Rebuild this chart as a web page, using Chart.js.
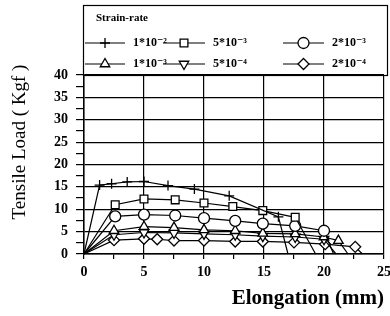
<!DOCTYPE html>
<html><head><meta charset="utf-8">
<script src="https://cdn.jsdelivr.net/npm/chart.js@4/dist/chart.umd.min.js"></script>
<style>html,body{margin:0;padding:0;background:#fff}</style>
</head><body>
<canvas id="c" width="390" height="316"></canvas>
<script>
// ---- data ----
const legendTitle = 'Strain-rate';
const xAxisTitle = 'Elongation (mm)';
const yAxisTitle = 'Tensile Load ( Kgf )';
const seriesLabels = ['1*10⁻²', '5*10⁻³', '2*10⁻³', '1*10⁻³', '5*10⁻⁴', '2*10⁻⁴'];
const xTickLabels = ['0', '5', '10', '15', '20', '25'];
const yTickLabels = ['0', '5', '10', '15', '20', '25', '30', '35', '40'];

const x1e2 = [0, 1.3, 2.3, 3.6, 5.0, 7.0, 9.2, 12.1, 16.2, 17.0];
const y1e2 = [0, 15.4, 15.7, 16.1, 16.2, 15.3, 14.5, 13.0, 8.3, 0];
const x5e3 = [0, 2.6, 5.0, 7.6, 10.0, 12.4, 14.9, 17.6, 19.3];
const y5e3 = [0, 11.0, 12.3, 12.1, 11.4, 10.6, 9.7, 8.2, 0];
const x2e3 = [0, 2.6, 5.0, 7.6, 10.0, 12.6, 14.9, 17.6, 20.0, 20.8];
const y2e3 = [0, 8.4, 8.8, 8.6, 8.0, 7.4, 6.8, 6.3, 5.2, 0];
const x1e3 = [0, 2.5, 5.0, 7.5, 10.0, 12.6, 14.9, 17.6, 20.0, 21.2, 22.0];
const y1e3 = [0, 5.2, 6.1, 5.9, 5.4, 5.2, 4.6, 4.5, 3.8, 3.0, 0];
const x5e4 = [0, 2.5, 5.0, 7.5, 10.0, 12.6, 14.9, 17.6, 20.0, 21.0];
const y5e4 = [0, 4.3, 4.8, 4.7, 4.5, 4.3, 4.0, 3.8, 3.3, 0];
const x2e4 = [0, 2.5, 5.0, 6.1, 7.5, 10.0, 12.6, 14.9, 17.5, 20.1, 22.6, 23.2];
const y2e4 = [0, 3.1, 3.4, 3.3, 3.0, 3.0, 2.8, 2.8, 2.6, 2.2, 1.6, 0];

const seriesX = [x1e2, x5e3, x2e3, x1e3, x5e4, x2e4];
const seriesY = [y1e2, y5e3, y2e3, y1e3, y5e4, y2e4];
const markerStyles = ['cross', 'rect', 'circle', 'triangle', 'triangle', 'rectRot'];
const markerRotations = [0, 0, 0, 0, 180, 0];
const markerRadii = [5, 5.5, 5.5, 5.5, 5.5, 5.5];

const toPoints = (xs, ys) => xs.map((x, i) => ({ x: x, y: ys[i] }));

const datasets = seriesLabels.map((lab, i) => ({
  label: lab,
  data: toPoints(seriesX[i], seriesY[i]),
  borderColor: '#000',
  backgroundColor: '#fff',
  borderWidth: 1.2,
  pointStyle: markerStyles[i],
  rotation: markerRotations[i],
  pointRadius: ctx => (ctx.raw && ctx.raw.y === 0) ? 0 : markerRadii[i],
  pointBorderWidth: 1.3,
  pointBorderColor: '#000',
  pointBackgroundColor: '#fff',
  tension: 0,
  clip: false
}));

const serif = '"Liberation Serif", "DejaVu Serif", serif';

const legendBox = {
  id: 'legendBox',
  afterDraw(chart) {
    const ctx = chart.ctx;
    const ca = chart.chartArea;
    ctx.save();
    ctx.strokeStyle = '#000';
    ctx.lineWidth = 1.2;
    ctx.strokeRect(83.5, 5.5, 387 - 83, ca.top - 5);
    ctx.fillStyle = '#000';
    ctx.textBaseline = 'middle';
    ctx.textAlign = 'left';
    ctx.font = 'bold 11px ' + serif;
    ctx.fillText(legendTitle, 96, 18);
    const cols = [[85, 125], [163, 205], [283, 324]];
    const rows = [43, 64];
    chart.data.datasets.forEach((ds, i) => {
      const r = Math.floor(i / 3), c = i % 3;
      const y = rows[r];
      const [a, b] = cols[c];
      ctx.beginPath();
      ctx.lineWidth = 1.2;
      ctx.moveTo(a, y); ctx.lineTo(b, y);
      ctx.stroke();
      ctx.fillStyle = '#fff';
      ctx.strokeStyle = '#000';
      ctx.lineWidth = 1.3;
      Chart.helpers.drawPoint(ctx, {
        pointStyle: markerStyles[i], rotation: markerRotations[i],
        radius: markerRadii[i], borderWidth: 1.3
      }, (a + b) / 2, y);
      ctx.fillStyle = '#000';
      ctx.font = 'bold 12px ' + serif;
      ctx.fillText(ds.label, b + 8, y);
    });
    // y axis title
    ctx.save();
    ctx.translate(20, 142);
    ctx.rotate(-Math.PI / 2);
    ctx.textAlign = 'center';
    ctx.textBaseline = 'middle';
    ctx.font = '19px ' + serif;
    ctx.fillStyle = '#000';
    ctx.fillText(yAxisTitle, 0, 0);
    ctx.restore();
    ctx.restore();
  }
};

const isMajor = v => Math.abs(v / 5 - Math.round(v / 5)) < 1e-6;

new Chart(document.getElementById('c'), {
  type: 'line',
  data: { datasets },
  plugins: [legendBox],
  options: {
    responsive: false,
    animation: false,
    devicePixelRatio: 1,
    layout: { padding: { top: 75, right: 0, left: 0, bottom: 0 } },
    plugins: { legend: { display: false }, tooltip: { enabled: false } },
    scales: {
      x: {
        type: 'linear', min: 0, max: 25,
        afterFit: s => { s.height = 62; s.paddingRight = 6; },
        ticks: {
          stepSize: 2.5, padding: 5, color: '#000',
          font: { family: serif, size: 14, weight: 'bold' },
          maxRotation: 0, autoSkip: false,
          callback: v => isMajor(v) ? xTickLabels[Math.round(v / 5)] : ''
        },
        grid: {
          color: c => isMajor(c.tick.value) ? '#000' : 'rgba(0,0,0,0)',
          tickColor: '#000', tickLength: 5, lineWidth: 1.2, drawOnChartArea: true
        },
        border: { display: true, color: '#000', width: 1.5 },
        title: {
          display: true, text: xAxisTitle, align: 'end', color: '#000',
          font: { family: serif, size: 21, weight: 'bold' },
          padding: { top: 3, bottom: 5 }
        }
      },
      y: {
        type: 'linear', min: 0, max: 40,
        afterFit: s => { s.width = 84; },
        ticks: {
          stepSize: 2.5, padding: 8, color: '#000',
          font: { family: serif, size: 14, weight: 'bold' },
          autoSkip: false,
          callback: v => isMajor(v) ? yTickLabels[Math.round(v / 5)] : ''
        },
        grid: {
          color: c => isMajor(c.tick.value) ? '#000' : 'rgba(0,0,0,0)',
          tickColor: '#000', tickLength: 8, lineWidth: 1.2
        },
        border: { display: true, color: '#000', width: 1.5 }
      }
    }
  }
});
</script>
</body></html>
